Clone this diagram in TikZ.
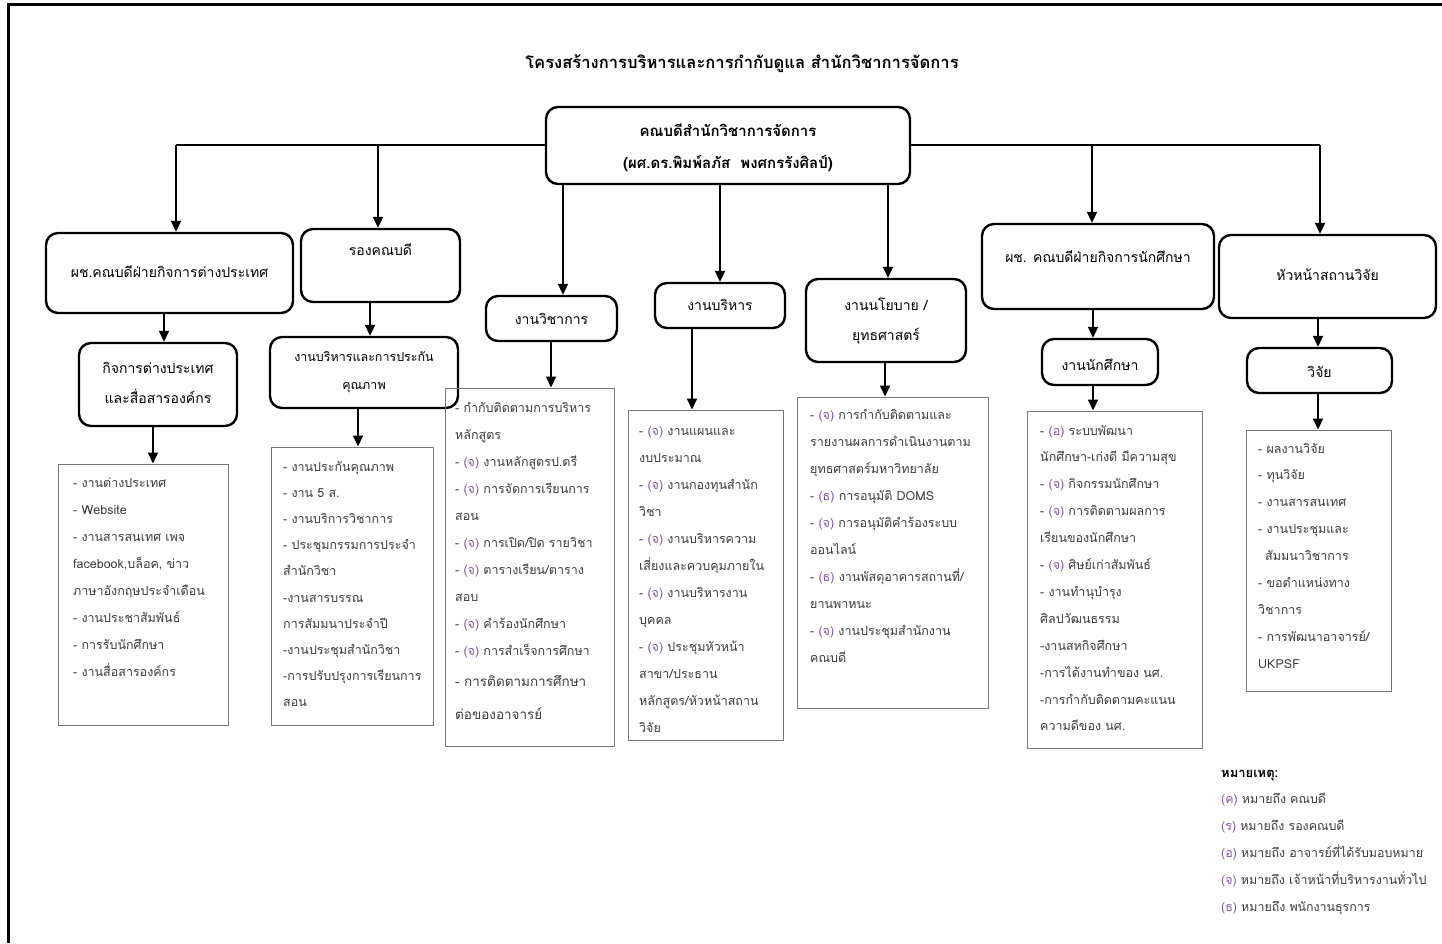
\documentclass[tikz,border=0pt]{standalone}
\usepackage{fontspec}
\setmainfont[Script=Thai]{Loma}
\usetikzlibrary{arrows.meta}
\definecolor{txtgray}{RGB}{60,60,60}
\definecolor{markpurple}{RGB}{128,84,172}
\definecolor{framegray}{RGB}{120,120,120}
\newcommand{\mkJ}{{\color{markpurple}(จ)}}
\newcommand{\mkT}{{\color{markpurple}(ธ)}}
\newcommand{\mkO}{{\color{markpurple}(อ)}}
\newcommand{\mkK}{{\color{markpurple}(ค)}}
\newcommand{\mkR}{{\color{markpurple}(ร)}}
\begin{document}
\begin{tikzpicture}[x=1pt,y=-1pt,
  rbox/.style={draw, line width=2.4pt, rounded corners=12pt, inner sep=0pt},
  lbox/.style={draw=framegray, line width=1pt, inner sep=0pt},
  arr/.style={line width=2pt, -{Triangle[length=11pt,width=10pt]}},
  bus/.style={line width=2.6pt},
  btxt/.style={font=\fontsize{14}{30}\selectfont, align=center, inner sep=0pt},
  ltxt/.style={font=\fontsize{12.5}{14}\selectfont, text=txtgray, anchor=base west, inner sep=0pt},
]
\useasboundingbox (0,0) rectangle (1442,943);
\fill[white] (0,0) rectangle (1442,943);

% page frame
\draw[line width=2.6pt] (8.3,943) -- (8.3,4.5) -- (1442,4.5);

% title
\node[font=\fontsize{16.6}{20}\bfseries\selectfont, inner sep=0pt] (title) at (742,64) {โครงสร้างการบริหารและการกำกับดูแล สำนักวิชาการจัดการ};

% dean
\node[rbox, minimum width=364pt, minimum height=77pt] (dean) at (728,145.5) {};
\node[font=\fontsize{15}{32}\bfseries\selectfont, align=center, inner sep=0pt] (deant) at (728,148) {คณบดีสำนักวิชาการจัดการ\\(ผศ.ดร.พิมพ์ลภัส\ \ พงศกรรังศิลป์)};

% second level
\node[rbox, minimum width=247pt, minimum height=80pt] (b1) at (169.5,273) {};
\node[btxt] (b1t) at (169.5,272) {ผช.คณบดีฝ่ายกิจการต่างประเทศ};
\node[rbox, minimum width=159pt, minimum height=73pt] (b2) at (380.5,265.5) {};
\node[btxt] (b2t) at (380.5,250) {รองคณบดี};
\node[rbox, minimum width=131pt, minimum height=45pt] (wk) at (551.5,318.5) {};
\node[btxt] (wkt) at (551.5,319) {งานวิชาการ};
\node[rbox, minimum width=130pt, minimum height=45pt] (bo) at (720,305.5) {};
\node[btxt] (bot) at (720,305) {งานบริหาร};
\node[rbox, minimum width=160pt, minimum height=83pt] (ny) at (886,320.5) {};
\node[btxt] (nyt) at (886,321) {งานนโยบาย /\\ยุทธศาสตร์};
\node[rbox, minimum width=232pt, minimum height=85pt] (b6) at (1098,266.5) {};
\node[btxt] (b6t) at (1098,257) {ผช. คณบดีฝ่ายกิจการนักศึกษา};
\node[rbox, minimum width=217pt, minimum height=83pt] (b7) at (1327.5,276.5) {};
\node[btxt] (b7t) at (1327.5,275) {หัวหน้าสถานวิจัย};

% third level
\node[rbox, minimum width=158pt, minimum height=83pt] (b1a) at (158,384.5) {};
\node[btxt] (b1at) at (158,383) {กิจการต่างประเทศ\\และสื่อสารองค์กร};
\node[rbox, minimum width=188pt, minimum height=71pt] (b2a) at (364,372.5) {};
\node[btxt, font=\fontsize{12.5}{28}\selectfont] (b2at) at (364,372) {งานบริหารและการประกัน\\คุณภาพ};
\node[rbox, minimum width=116pt, minimum height=46pt] (ns) at (1100,362) {};
\node[btxt] (nst) at (1100,365) {งานนักศึกษา};
\node[rbox, minimum width=145pt, minimum height=45pt] (wj) at (1319.5,370.5) {};
\node[btxt] (wjt) at (1319.5,372) {วิจัย};

% bus from the dean
\coordinate (busL) at (176,145);
\coordinate (busR) at (1320,145);
\coordinate (x2) at (378,145);
\coordinate (x6) at (1092,145);
\draw[bus] (busL) -- (dean.west |- busL);
\draw[bus] (dean.east |- busR) -- (busR);
\draw[arr] (busL) -- (busL |- b1.north);
\draw[arr] (x2) -- (x2 |- b2.north);
\draw[arr] (x6) -- (x6 |- b6.north);
\draw[arr] (busR) -- (busR |- b7.north);

\coordinate (d1) at (563,0);
\coordinate (d2) at (720,0);
\coordinate (d3) at (888,0);
\draw[arr] (dean.south -| d1) -- (wk.north -| d1);
\draw[arr] (dean.south -| d2) -- (bo.north -| d2);
\draw[arr] (dean.south -| d3) -- (ny.north -| d3);

\coordinate (a1) at (164,0);
\coordinate (a2) at (370,0);
\coordinate (a6) at (1093,0);
\coordinate (a7) at (1318,0);
\draw[arr] (b1.south -| a1) -- (b1a.north -| a1);
\draw[arr] (b2.south -| a2) -- (b2a.north -| a2);
\draw[arr] (b6.south -| a6) -- (ns.north -| a6);
\draw[arr] (b7.south -| a7) -- (wj.north -| a7);

% duty lists
\node[lbox, minimum width=170pt, minimum height=261pt] (L1) at (143,594.5) {};
\node[lbox, minimum width=162pt, minimum height=278pt] (L2) at (352,586) {};
\node[lbox, minimum width=169pt, minimum height=358pt] (L3) at (529.5,567) {};
\node[lbox, minimum width=155pt, minimum height=330pt] (L4) at (705.5,575) {};
\node[lbox, minimum width=191pt, minimum height=311pt] (L5) at (892.5,552.5) {};
\node[lbox, minimum width=175pt, minimum height=337pt] (L6) at (1114.5,579.5) {};
\node[lbox, minimum width=145pt, minimum height=261pt] (L7) at (1318.5,560.5) {};

\coordinate (c1) at (153,0);
\coordinate (c2) at (358,0);
\coordinate (c3) at (551,0);
\coordinate (c4) at (692,0);
\coordinate (c5) at (885,0);
\coordinate (c6) at (1093,0);
\coordinate (c7) at (1318,0);
\draw[arr] (b1a.south -| c1) -- (L1.north -| c1);
\draw[arr] (b2a.south -| c2) -- (L2.north -| c2);
\draw[arr] (wk.south -| c3) -- (L3.north -| c3);
\draw[arr] (bo.south -| c4) -- (L4.north -| c4);
\draw[arr] (ny.south -| c5) -- (L5.north -| c5);
\draw[arr] (ns.south -| c6) -- (L6.north -| c6);
\draw[arr] (wj.south -| c7) -- (L7.north -| c7);

\foreach \t [count=\i from 0] in {- งานต่างประเทศ, - Website, - งานสารสนเทศ เพจ, {facebook,บล็อค, ข่าว}, ภาษาอังกฤษประจำเดือน, - งานประชาสัมพันธ์, - การรับนักศึกษา, - งานสื่อสารองค์กร}
  \node[ltxt] (L1-\i) at (73,487+\i*27) {\t};

\foreach \t [count=\i from 0] in {- งานประกันคุณภาพ, - งาน 5 ส., - งานบริการวิชาการ, - ประชุมกรรมการประจำ, สำนักวิชา, -งานสารบรรณ, การสัมมนาประจำปี, -งานประชุมสำนักวิชา, -การปรับปรุงการเรียนการ, สอน}
  \node[ltxt] (L2-\i) at (283,471+\i*26.2) {\t};

\foreach \t [count=\i from 0] in {- กำกับติดตามการบริหาร, หลักสูตร, - \mkJ{} งานหลักสูตรป.ตรี, - \mkJ{} การจัดการเรียนการ, สอน, - \mkJ{} การเปิด/ปิด รายวิชา, - \mkJ{} ตารางเรียน/ตาราง, สอบ, - \mkJ{} คำร้องนักศึกษา, - \mkJ{} การสำเร็จการศึกษา}
  \node[ltxt] (L3-\i) at (455,412+\i*27) {\t};
\node[ltxt, font=\fontsize{13.5}{15}\selectfont] (L3-10) at (455,686) {- การติดตามการศึกษา};
\node[ltxt, font=\fontsize{13.5}{15}\selectfont] (L3-11) at (455,719) {ต่อของอาจารย์};

\foreach \t [count=\i from 0] in {- \mkJ{} งานแผนและ, งบประมาณ, - \mkJ{} งานกองทุนสำนัก, วิชา, - \mkJ{} งานบริหารความ, เสี่ยงและควบคุมภายใน, - \mkJ{} งานบริหารงาน, บุคคล, - \mkJ{} ประชุมหัวหน้า, สาขา/ประธาน, หลักสูตร/หัวหน้าสถาน, วิจัย}
  \node[ltxt] (L4-\i) at (639,435+\i*27) {\t};

\foreach \t [count=\i from 0] in {- \mkJ{} การกำกับติดตามและ, รายงานผลการดำเนินงานตาม, ยุทธศาสตร์มหาวิทยาลัย, - \mkT{} การอนุมัติ DOMS, - \mkJ{} การอนุมัติคำร้องระบบ, ออนไลน์, - \mkT{} งานพัสดุอาคารสถานที่/, ยานพาหนะ, - \mkJ{} งานประชุมสำนักงาน, คณบดี}
  \node[ltxt] (L5-\i) at (810,419+\i*27.1) {\t};

\foreach \t [count=\i from 0] in {- \mkO{} ระบบพัฒนา, นักศึกษา-เก่งดี มีความสุข, - \mkJ{} กิจกรรมนักศึกษา, - \mkJ{} การติดตามผลการ, เรียนของนักศึกษา, - \mkJ{} ศิษย์เก่าสัมพันธ์, - งานทำนุบำรุง, ศิลปวัฒนธรรม, -งานสหกิจศึกษา, -การได้งานทำของ นศ., -การกำกับติดตามคะแนน, ความดีของ นศ.}
  \node[ltxt] (L6-\i) at (1040,435+\i*26.9) {\t};

\foreach \t [count=\i from 0] in {- ผลงานวิจัย, - ทุนวิจัย, - งานสารสนเทศ, - งานประชุมและ, \hspace{7pt}สัมมนาวิชาการ, - ขอตำแหน่งทาง, วิชาการ, - การพัฒนาอาจารย์/, UKPSF}
  \node[ltxt] (L7-\i) at (1258,453+\i*26.9) {\t};

% notes
\node[ltxt, text=black, font=\fontsize{13}{14}\bfseries\selectfont] (note) at (1221,777) {หมายเหตุ:};
\foreach \t [count=\i from 0] in {\mkK{} หมายถึง คณบดี, \mkR{} หมายถึง รองคณบดี, \mkO{} หมายถึง อาจารย์ที่ได้รับมอบหมาย, \mkJ{} หมายถึง เจ้าหน้าที่บริหารงานทั่วไป, \mkT{} หมายถึง พนักงานธุรการ}
  \node[ltxt, font=\fontsize{12.4}{14}\selectfont] (N-\i) at (1221,803+\i*27) {\t};
\end{tikzpicture}
\end{document}
